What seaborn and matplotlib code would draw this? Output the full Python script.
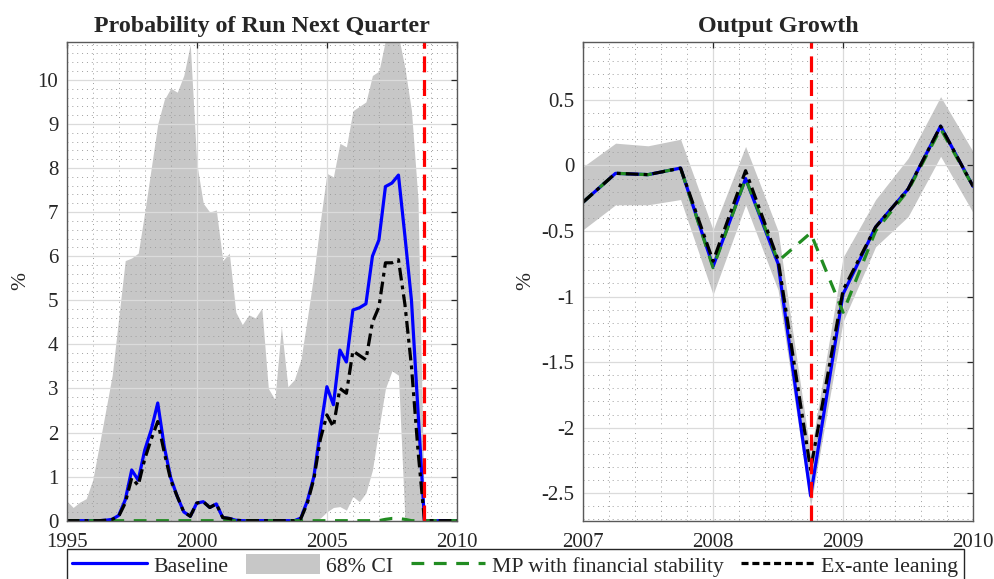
import numpy as np
import pandas as pd
import matplotlib
matplotlib.use("Agg")
import matplotlib.pyplot as plt
import seaborn as sns
from matplotlib.ticker import MultipleLocator
from matplotlib.patches import Patch
from matplotlib.lines import Line2D

# ---------------- data ----------------
# Left panel: quarterly 1995Q1 .. 2010Q1 (61 points)
run_start, run_end = 1995.0, 2010.0
run_baseline = [0, 0, 0, 0, 0, 0, 0.01, 0.03, 0.12, 0.47,
                1.15, 0.92, 1.6, 2.06, 2.67, 1.68, 0.97, 0.55, 0.2, 0.1,
                0.4, 0.43, 0.3, 0.38, 0.07, 0.05, 0.01, 0, 0, 0,
                0, 0, 0, 0, 0, 0, 0.06, 0.45, 1.0, 2.06,
                3.04, 2.63, 3.87, 3.6, 4.78, 4.83, 4.92, 6.0, 6.37, 7.58,
                7.66, 7.84, 6.45, 5.0, 2.5, 0, 0, 0, 0, 0, 0]
run_exante = [0, 0, 0, 0, 0, 0, 0.01, 0.03, 0.1, 0.4,
              0.97, 0.8, 1.4, 1.85, 2.25, 1.55, 0.92, 0.55, 0.2, 0.1,
              0.4, 0.43, 0.3, 0.38, 0.07, 0.05, 0.01, 0, 0, 0,
              0, 0, 0, 0, 0, 0, 0.05, 0.4, 0.95, 1.85,
              2.4, 2.13, 3.0, 2.89, 3.85, 3.75, 3.65, 4.5, 4.85, 5.85,
              5.85, 5.92, 4.9, 3.5, 1.6, 0, 0, 0, 0, 0, 0]
run_mp = [0] * 49 + [0.03, 0.05, 0.05, 0.03] + [0] * 8
run_ci_upper = [0.45, 0.3, 0.42, 0.5, 0.92, 1.7, 2.5, 3.3, 4.6, 5.9,
                5.96, 6.07, 7.0, 8.0, 9.0, 9.55, 9.81, 9.72, 10.1, 10.8,
                8.1, 7.2, 7.0, 7.05, 5.9, 6.07, 4.73, 4.45, 4.67, 4.6,
                4.82, 3.0, 2.75, 4.4, 3.04, 3.2, 3.65, 4.6, 5.6, 6.8,
                7.88, 7.8, 8.56, 8.48, 9.3, 9.4, 9.5, 10.1, 10.2, 10.9,
                11.3, 11.0, 10.27, 9.3, 7.3, 0, 0, 0, 0, 0, 0]
run_ci_lower = [0] * 39 + [0.06, 0.2, 0.3, 0.32, 0.24, 0.55, 0.43, 0.63, 1.15,
                           2.1, 3.0, 3.4, 3.3, 0] + [0] * 8

# Right panel: quarterly 2007Q1 .. 2010Q1 (13 points)
out_start, out_end = 2007.0, 2010.0
out_baseline = [-0.28, -0.06, -0.07, -0.02, -0.77, -0.1, -0.75, -2.52,
                -0.98, -0.47, -0.18, 0.3, -0.16]
out_exante = [-0.28, -0.06, -0.07, -0.02, -0.73, -0.04, -0.72, -2.32,
              -0.95, -0.47, -0.18, 0.3, -0.16]
out_mp = [-0.28, -0.06, -0.07, -0.02, -0.78, -0.1, -0.73, -0.515,
          -1.12, -0.5, -0.19, 0.28, -0.16]
out_ci_upper = [-0.01, 0.17, 0.15, 0.2, -0.49, 0.145, -0.5, -2.2,
                -0.7, -0.26, 0.055, 0.525, 0.105]
out_ci_lower = [-0.49, -0.3, -0.3, -0.26, -0.985, -0.3, -0.95, -2.6,
                -1.19, -0.62, -0.39, 0.07, -0.36]

shock_date = 2008.75

legend_labels = ["Baseline", "68% CI", "MP with financial stability", "Ex-ante leaning"]
titles = ["Probability of Run Next Quarter", "Output Growth"]

# ---------------- style ----------------
sns.set_style("white")
plt.rcParams["font.family"] = ["Liberation Serif", "DejaVu Serif"]
plt.rcParams["axes.unicode_minus"] = False

BLUE = (0.0, 0.0, 1.0)
GREEN = (0.13, 0.55, 0.13)
GREY = (0.78, 0.78, 0.78)
RED = (1.0, 0.0, 0.0)
AX = (0.15, 0.15, 0.15)

fig = plt.figure(figsize=(9.95, 5.79), dpi=100)
ax1 = fig.add_axes([0.067, 0.1007, 0.3923, 0.8268])
ax2 = fig.add_axes([0.586, 0.1007, 0.392, 0.8268])


def make_df(start, end, base, exa, mp, lo, hi):
    n = len(base)
    t = np.linspace(start, end, n)
    return pd.DataFrame({"t": t, "base": base, "exa": exa, "mp": mp,
                         "lo": lo, "hi": hi})


def draw(ax, df):
    ax.fill_between(df["t"], df["lo"], df["hi"], color=GREY, lw=0, zorder=1)
    sns.lineplot(data=df, x="t", y="base", ax=ax, color=BLUE, lw=2.3,
                 zorder=3, legend=False)
    sns.lineplot(data=df, x="t", y="mp", ax=ax, color=GREEN, lw=2.3,
                 dashes=False, zorder=4, legend=False)
    ax.lines[-1].set_dashes((4, 3))
    sns.lineplot(data=df, x="t", y="exa", ax=ax, color="black", lw=2.3,
                 zorder=5, legend=False)
    ax.lines[-1].set_dashes((4, 1.6, 1.2, 1.6))
    ax.axvline(shock_date, color=RED, lw=2.3, dashes=(5, 2.4), zorder=6)


def style(ax, xlim, ylim, xmajor, xminor, ymajor, yminor, title):
    ax.set_xlim(*xlim)
    ax.set_ylim(*ylim)
    ax.xaxis.set_major_locator(MultipleLocator(xmajor))
    ax.xaxis.set_minor_locator(MultipleLocator(xminor))
    ax.yaxis.set_major_locator(MultipleLocator(ymajor))
    ax.yaxis.set_minor_locator(MultipleLocator(yminor))
    ax.set_axisbelow(False)
    ax.grid(which="major", color=(0.86, 0.86, 0.86), lw=0.9, ls="-")
    ax.grid(which="minor", color=(0.62, 0.62, 0.62), lw=0.7, ls=(0, (1, 4)))
    ax.tick_params(which="major", direction="in", length=4, width=0.9,
                   colors=AX, top=True, right=True, labelsize=15)
    ax.tick_params(axis="x", which="major", pad=9)
    ax.tick_params(axis="y", which="major", pad=6)
    ax.tick_params(which="minor", length=0, top=True, right=True)
    for s in ax.spines.values():
        s.set_color((0.35, 0.35, 0.35))
        s.set_linewidth(1.0)
        s.set_zorder(7)
    ax.set_xlabel("")
    ax.set_ylabel("%", fontsize=15.5, labelpad=5)
    ax.set_title(title, fontsize=17.3, fontweight="bold", pad=7)
    ax.set_facecolor("white")


df1 = make_df(run_start, run_end, run_baseline, run_exante, run_mp,
              run_ci_lower, run_ci_upper)
df2 = make_df(out_start, out_end, out_baseline, out_exante, out_mp,
              out_ci_lower, out_ci_upper)
draw(ax1, df1)
draw(ax2, df2)

style(ax1, (1995, 2010), (0, 10.86), 5, 1, 1, 0.2, titles[0])
style(ax2, (2007, 2010), (-2.71, 0.942), 1, 0.2, 0.5, 0.1, titles[1])
ax2.yaxis.set_major_formatter(matplotlib.ticker.FuncFormatter(
    lambda v, p: ("%g" % round(v, 2))))

handles = [
    Line2D([], [], color=BLUE, lw=2.3),
    Patch(facecolor=GREY, edgecolor="none"),
    Line2D([], [], color=GREEN, lw=2.3, dashes=(4, 3)),
    Line2D([], [], color="black", lw=2.3, dashes=(2.2, 1.2)),
]
leg = fig.legend(handles, legend_labels, ncol=4, loc="upper center",
                 bbox_to_anchor=(0.518, 0.052), borderaxespad=0,
                 fontsize=15.7, frameon=True, fancybox=False, framealpha=1,
                 edgecolor=(0.15, 0.15, 0.15), handlelength=3.4,
                 handleheight=1.0, handletextpad=0.3, columnspacing=0.8,
                 borderpad=0.25)
leg.get_frame().set_linewidth(1.0)

fig.savefig("out.png", dpi=100, facecolor="white")
